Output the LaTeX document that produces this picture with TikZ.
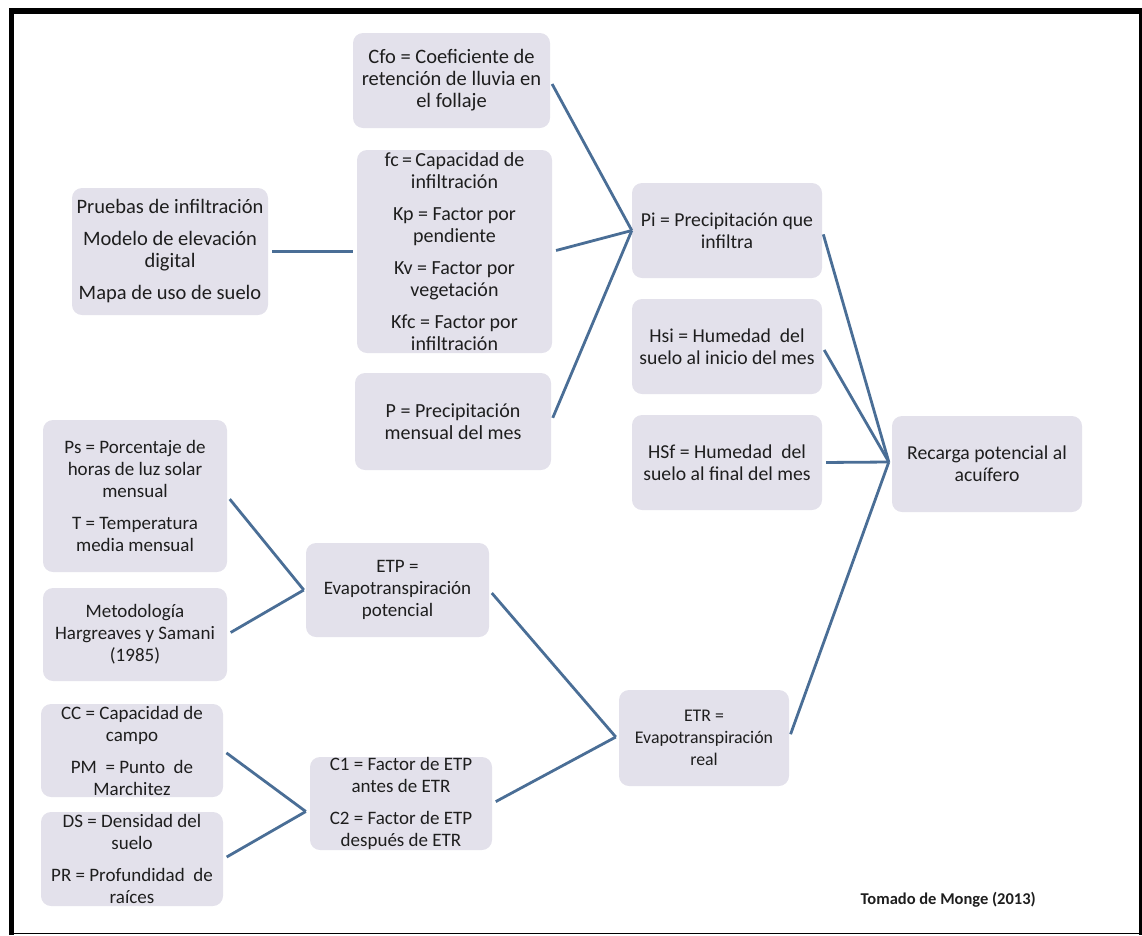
\documentclass[tikz,border=0pt]{standalone}
\usepackage{fontspec}
\setmainfont{Carlito}
\usetikzlibrary{calc}
\definecolor{boxfill}{HTML}{E3E1EB}
\definecolor{conncol}{HTML}{4A6E96}
\definecolor{txtcol}{HTML}{1E1E1E}
\newcommand{\pg}{\\[10pt]}
\begin{document}
\begin{tikzpicture}[x=1pt,y=-1pt,
  box/.style={fill=boxfill, rounded corners=10pt, align=center, text=txtcol,
    font=\fontsize{#1}{22}\selectfont, inner sep=0pt},
  box/.default=19.5,
  conn/.style={draw=conncol, line width=2.8pt, shorten <=4pt},
  frameline/.style={fill=black}
]
\useasboundingbox (0,0) rectangle (1142,935);
% frame
\fill[frameline] (9,8) rectangle (14,935);
\fill[frameline] (9,8) rectangle (1142,14);
\fill[frameline] (1139,8) rectangle (1142,935);
\fill[frameline] (9,932.5) rectangle (1142,934);

% nodes
\node[box=20.5, minimum width=197pt, minimum height=95pt] (cfo) at (451.5,80.5)
  {Cfo = Coeficiente de\\retención de lluvia en\\el follaje};
\node[box=20, minimum width=195pt, minimum height=203pt] (fc) at (454.5,251.5)
  {fc\,=\,Capacidad de\\infiltración\pg Kp = Factor por\\pendiente\pg Kv = Factor por\\vegetación\pg Kfc = Factor por\\infiltración};
\node[box=20, minimum width=196pt, minimum height=97pt] (pp) at (453,421.5)
  {P = Precipitación\\mensual del mes};
\node[box=20.5, minimum width=196pt, minimum height=127pt] (pru) at (170,251.5)
  {Pruebas de infiltración\pg Modelo de elevación\\digital\pg Mapa de uso de suelo};
\node[box=19.7, minimum width=190pt, minimum height=95pt] (pi) at (727,230.5)
  {Pi = Precipitación que\\infiltra};
\node[box=19.7, minimum width=190pt, minimum height=95pt] (hsi) at (727,346.5)
  {Hsi = Humedad~ del\\suelo al inicio del mes};
\node[box=19.7, minimum width=190pt, minimum height=95pt] (hsf) at (727,462.5)
  {HSf = Humedad~ del\\suelo al final del mes};
\node[box=19.7, minimum width=190pt, minimum height=96pt] (rec) at (987,464)
  {Recarga potencial al\\acuífero};
\node[box=19, minimum width=184pt, minimum height=152pt] (ps) at (135,496)
  {Ps = Porcentaje de\\horas de luz solar\\mensual\pg T = Temperatura\\media mensual};
\node[box=19, minimum width=184pt, minimum height=93pt] (met) at (135,634.5)
  {Metodología\\Hargreaves y Samani\\(1985)};
\node[box=19, minimum width=183pt, minimum height=94pt] (etp) at (397.5,590)
  {ETP =\\Evapotranspiración\\potencial};
\node[box=19, minimum width=182pt, minimum height=93pt] (cc) at (132,750.5)
  {CC = Capacidad de\\campo\pg PM~ = Punto~ de\\Marchitez};
\node[box=19, minimum width=182pt, minimum height=94pt] (ds) at (132,859)
  {DS = Densidad del\\suelo\pg PR = Profundidad~ de\\raíces};
\node[box=19, minimum width=182pt, minimum height=93pt] (c1) at (401,803.5)
  {C1 = Factor de ETP\\antes de ETR\pg C2 = Factor de ETP\\después de ETR};
\node[box=17.8, minimum width=170pt, minimum height=96pt] (etr) at (704,738)
  {ETR =\\Evapotranspiración\\real};
\node[anchor=east, text=txtcol, font=\fontsize{16.5}{18}\selectfont\bfseries, inner sep=0pt] (src) at (1036,900)
  {Tomado de Monge (2013)};

% connectors
\draw[conn, shorten >=4pt] (pru.east) -- (fc.west);
\draw[conn] (cfo.east) -- (pi.west);
\draw[conn] (fc.east) -- (pi.west);
\draw[conn] (pp.east) -- (pi.west);
\draw[conn] (pi.east) -- ($(rec.west)+(-3,-2)$);
\draw[conn] (hsi.east) -- ($(rec.west)+(-3,-2)$);
\draw[conn] (hsf.east) -- ($(rec.west)+(-3,-2)$);
\draw[conn] (etr.east) -- ($(rec.west)+(-3,-2)$);
\draw[conn] (ps.east) -- ($(etp.west)+(-2,0)$);
\draw[conn] (met.east) -- ($(etp.west)+(-2,0)$);
\draw[conn] (etp.east) -- ($(etr.west)+(-3,-1)$);
\draw[conn] (c1.east) -- ($(etr.west)+(-3,-1)$);
\coordinate (jc) at ($(c1.west)+(-4,8)$);
\draw[conn] (cc.east) -- (jc);
\draw[conn] (ds.east) -- (jc);
\end{tikzpicture}
\end{document}
